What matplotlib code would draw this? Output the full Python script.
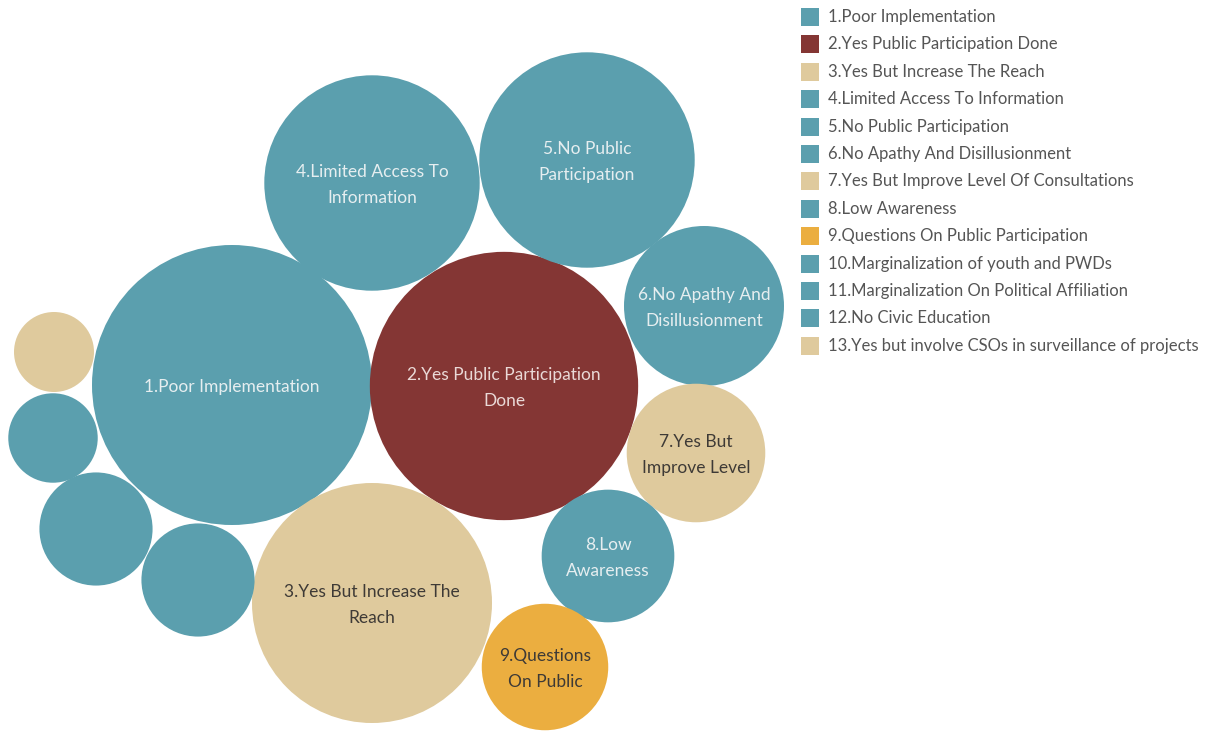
import numpy as np
import matplotlib.pyplot as plt
from matplotlib.patches import Circle, Rectangle

# data
categories = ['1.Poor Implementation', '2.Yes Public Participation Done', '3.Yes But Increase The Reach',
              '4.Limited Access To Information', '5.No Public Participation', '6.No Apathy And Disillusionment',
              '7.Yes But Improve Level Of Consultations', '8.Low Awareness', '9.Questions On Public Participation',
              '10.Marginalization of youth and PWDs', '11.Marginalization On Political Affiliation',
              '12.No Civic Education', '13.Yes but involve CSOs in surveillance of projects']
counts = [49, 45, 36, 29, 29, 16, 12, 11, 10, 8, 8, 5, 4]
groups = ['no', 'yes', 'yes_but', 'no', 'no', 'no', 'yes_but', 'no', 'question', 'no', 'no', 'no', 'yes_but']
bubble_labels = ['1.Poor Implementation', '2.Yes Public Participation\nDone', '3.Yes But Increase The\nReach',
                 '4.Limited Access To\nInformation', '5.No Public\nParticipation', '6.No Apathy And\nDisillusionment',
                 '7.Yes But\nImprove Level', '8.Low\nAwareness', '9.Questions\nOn Public', '', '', '', '']

# packed layout (pixel centres, as placed by the packing)
layout_x = [232, 504, 372, 372, 587, 704, 696, 608, 545, 198, 96, 53, 54]
layout_y = [385, 386, 603, 183, 160, 306, 453, 556, 667, 580, 529, 438, 352]

colors = {'no': '#5b9fae', 'yes': '#843634', 'yes_but': '#dfca9d', 'question': '#ebae40'}
text_colors = {'no': '#e6eef0', 'yes': '#ead9d7', 'yes_but': '#3e3a36', 'question': '#3e3a36'}

plt.rcParams['font.family'] = ['Lato', 'DejaVu Sans']

fig = plt.figure(figsize=(12.13, 7.35), dpi=100)
ax = fig.add_axes([0, 0, 1, 1])
ax.set_xlim(0, 1213)
ax.set_ylim(735, 0)
ax.set_aspect('equal')
ax.axis('off')

scale = 20  # px per sqrt(count)
for i, c in enumerate(counts):
    r = scale * np.sqrt(c)
    g = groups[i]
    ax.add_patch(Circle((layout_x[i], layout_y[i]), r, facecolor=colors[g], edgecolor='none'))
    if bubble_labels[i]:
        ax.text(layout_x[i], layout_y[i] + 2, bubble_labels[i], ha='center', va='center',
                fontsize=12.5, color=text_colors[g], linespacing=1.7)

# legend
for i, name in enumerate(categories):
    y = 17 + i * 27.4
    ax.add_patch(Rectangle((801, y - 9), 18, 18, facecolor=colors[groups[i]], edgecolor='none'))
    ax.text(828, y, name, ha='left', va='center', fontsize=12, color='#555555')

fig.savefig('out.png', dpi=100)
